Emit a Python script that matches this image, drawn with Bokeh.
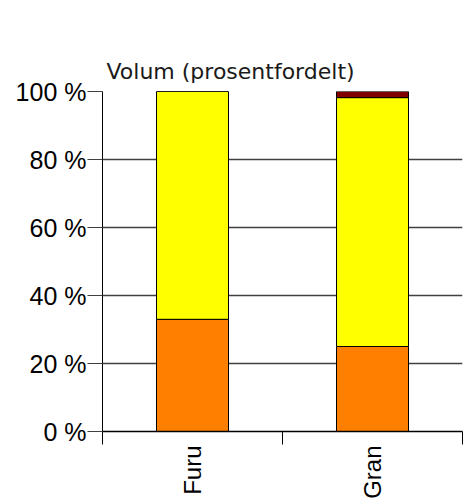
import math
from bokeh.plotting import figure
from bokeh.models import (Range1d, LinearAxis, FixedTicker,
                          PrintfTickFormatter, Title, ColumnDataSource)
from bokeh.embed import file_html
from bokeh.resources import INLINE

categories = ["Furu", "Gran"]
segments = ["s1", "s2", "s3"]
s1 = [33.0, 25.0]     # orange (bottom)
s2 = [67.0, 73.2]     # yellow
s3 = [0.0, 1.8]       # dark red (top)
colors = ["#FF8000", "#FFFF00", "#800000"]
y_ticks = [0, 20, 40, 60, 80, 100]
title_text = "Volum (prosentfordelt)"

n = len(categories)
xpos = [i + 0.5 for i in range(n)]
source = ColumnDataSource(dict(x=xpos, s1=s1, s2=s2, s3=s3))

p = figure(width=463, height=501, output_backend="svg", toolbar_location=None,
           x_range=Range1d(0, n), y_range=Range1d(0, 100),
           x_axis_location=None, y_axis_location=None,
           min_border_left=102, min_border_right=1, min_border_top=91, min_border_bottom=70)
p.outline_line_color = None
p.xgrid.visible = False

p.vbar_stack(segments, x="x", width=0.4, source=source, fill_color=colors,
             line_color="black", line_width=1)

# y axis
yax = LinearAxis(ticker=FixedTicker(ticks=y_ticks), formatter=PrintfTickFormatter(format="%d %%"))
yax.major_label_text_font = "Liberation Sans"
yax.major_label_text_font_size = "25px"
yax.major_label_text_color = "black"
yax.major_label_standoff = 1
yax.major_tick_out = 15
yax.major_tick_in = 0
yax.minor_tick_line_color = None
yax.axis_line_color = "black"
yax.major_tick_line_color = "#404040"
p.add_layout(yax, "left")

p.ygrid.ticker = FixedTicker(ticks=y_ticks)
p.ygrid.grid_line_color = "#404040"
p.ygrid.grid_line_width = 1.3

# x axis: labels at category centres, tick marks at category boundaries
xc = LinearAxis(ticker=FixedTicker(ticks=xpos, minor_ticks=list(range(n + 1))),
                major_label_overrides={xv: c for xv, c in zip(xpos, categories)})
xc.axis_line_color = "black"
xc.axis_line_width = 1.5
xc.major_tick_line_color = None
xc.major_tick_out = 13
xc.major_tick_in = 0
xc.minor_tick_line_color = "black"
xc.minor_tick_out = 13
xc.minor_tick_in = 0
xc.major_label_orientation = math.pi / 2
xc.major_label_standoff = 1
xc.major_label_text_font = "Liberation Sans"
xc.major_label_text_font_size = "24px"
xc.major_label_text_color = "black"
p.add_layout(xc, "below")

t = Title(text=title_text, align="left", offset=4, standoff=11, vertical_align="top",
          text_font="DejaVu Sans", text_font_size="22px", text_font_style="normal",
          text_color="#1a1a1a")
p.add_layout(t, "above")

open("out.html", "w").write(file_html(p, INLINE))
